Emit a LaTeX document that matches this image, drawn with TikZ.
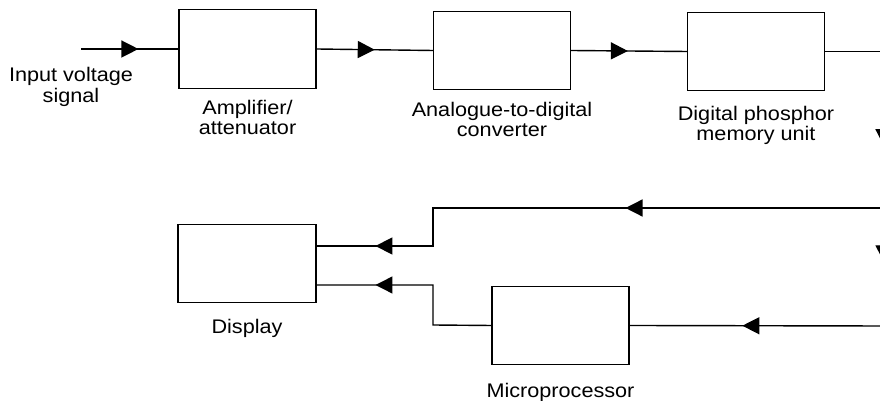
\documentclass[tikz,border=0pt]{standalone}
\usepackage{fontspec}
\setmainfont{Liberation Sans}[FakeStretch=1.1]
\usetikzlibrary{arrows.meta,decorations.markings,positioning}

\tikzset{
  blk/.style={draw,thick,minimum width=2.74cm,minimum height=1.57cm,inner sep=0pt},
  lbl/.style={align=center,inner sep=0pt,font=\fontsize{11.2}{11.5}\selectfont},
  wire/.style={thick},
  arrowat/.style={postaction={decorate,decoration={markings,
    mark=at position #1 with {\arrow{Triangle[length=0.34cm,width=0.34cm]}}}}}
}

\begin{document}
\begin{tikzpicture}[x=0.02cm,y=-0.02cm]
  \useasboundingbox (0,0) rectangle (880,401);
  \clip (0,0) rectangle (880,401);

  % top row
  \node[blk] (amp) at (247.5,49) {};
  \node[blk] (adc) at (502,50.5) {};
  \node[blk] (dpm) at (756,51.5) {};
  \node[lbl,below=0.22cm of amp] (amplbl) {Amplifier/\\attenuator};
  \node[lbl,below=0.22cm of adc] (adclbl) {Analogue-to-digital\\converter};
  \node[lbl,below=0.28cm of dpm] (dpmlbl) {Digital phosphor\\memory unit};
  \node[lbl] (inlbl) at (71,87) {Input voltage\\signal};

  % bottom row
  \node[blk,minimum width=2.76cm] (disp) at (247,263.5) {};
  \node[blk] (micro) at (560.5,325.5) {};
  \node[lbl,below=0.3cm of disp] (displbl) {Display};
  \node[lbl,below=0.34cm of micro] (microlbl) {Microprocessor};

  \coordinate (in) at (81,49);
  \coordinate (split) at (884,208);
  \coordinate (bend) at (884,326);
  \coordinate (jogA) at (433,208);
  \coordinate (jogB) at (433,325);
  \coordinate (dispA) at (disp.east |- 0,246);
  \coordinate (dispB) at (disp.east |- 0,285);

  \draw[wire,arrowat=0.59] (in) -- (amp.west);
  \draw[wire,arrowat=0.5] (amp.east) -- (adc.west);
  \draw[wire,arrowat=0.49] (adc.east) -- (dpm.west);
  \draw[wire,arrowat=0.713] (dpm.east) -| (split);
  \draw[wire,arrowat=0.46] (split) -- (bend);
  \draw[wire,arrowat=0.427,arrowat=0.903] (split) -- (jogA) |- (dispA);
  \draw[wire,arrowat=0.557] (bend) -- (micro.east);
  \draw[wire,arrowat=0.726] (micro.west) -- (jogB) |- (dispB);

\end{tikzpicture}
\end{document}
